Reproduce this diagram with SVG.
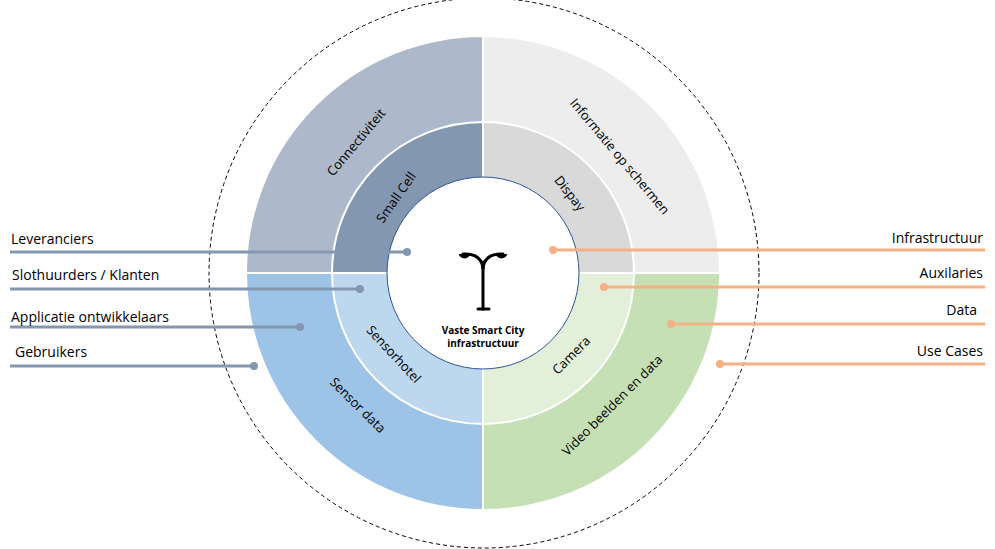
<svg xmlns="http://www.w3.org/2000/svg" width="995" height="549" viewBox="0 0 995 549">
<style>
text{font-family:"Open Sans","Liberation Sans",sans-serif;fill:#000}
.lbl{font-size:14px}
.seg{font-size:13px}
.gl{stroke:#8497b0;stroke-width:3;fill:none}
.ol{stroke:#f4b183;stroke-width:3;fill:none}
.gd{fill:#8497b0}.od{fill:#f4b183}
</style>
<rect width="995" height="549" fill="#fff"/>
<circle cx="484" cy="273" r="275" fill="none" stroke="#000" stroke-width="1" stroke-dasharray="4,3"/>
<g id="quadrants" stroke="#fff" stroke-width="2">
<path d="M483,273 L246,273 A237,237 0 0 1 483,36 Z" fill="#adb9ca"/>
<path d="M483,273 L483,36 A237,237 0 0 1 720,273 Z" fill="#ededed"/>
<path d="M483,273 L483,510 A237,237 0 0 1 246,273 Z" fill="#9dc3e6"/>
<path d="M483,273 L720,273 A237,237 0 0 1 483,510 Z" fill="#c5e0b4"/>
<path d="M483,273 L332,273 A151,151 0 0 1 483,122 Z" fill="#8497b0"/>
<path d="M483,273 L483,122 A151,151 0 0 1 634,273 Z" fill="#d9d9d9"/>
<path d="M483,273 L483,424 A151,151 0 0 1 332,273 Z" fill="#bdd7ee"/>
<path d="M483,273 L634,273 A151,151 0 0 1 483,424 Z" fill="#e2f0d9"/>
</g>
<g id="seglabels" class="seg">
<text class="seg" transform="translate(357,143) rotate(-50)" text-anchor="middle" dominant-baseline="middle">Connectiviteit</text>
<text class="seg" transform="translate(397,198) rotate(-55)" text-anchor="middle" dominant-baseline="middle">Small Cell</text>
<text class="seg" transform="translate(619,157) rotate(50)" text-anchor="middle" dominant-baseline="middle">Informatie op schermen</text>
<text class="seg" transform="translate(569,194) rotate(52)" text-anchor="middle" dominant-baseline="middle">Dispay</text>
<text class="seg" transform="translate(393,355) rotate(47)" text-anchor="middle" dominant-baseline="middle">Sensorhotel</text>
<text class="seg" transform="translate(357,406) rotate(45)" text-anchor="middle" dominant-baseline="middle">Sensor data</text>
<text class="seg" transform="translate(572,356) rotate(-45)" text-anchor="middle" dominant-baseline="middle">Camera</text>
<text class="seg" transform="translate(613,406) rotate(-45)" text-anchor="middle" dominant-baseline="middle">Video beelden en data</text>
</g>
<g id="center">
<circle cx="483" cy="273" r="96" fill="#fff" stroke="#2f5597" stroke-width="1"/>
<g stroke="#000" stroke-width="3" fill="none" stroke-linecap="round">
<line x1="483" y1="262" x2="483" y2="309"/>
<line x1="478" y1="309" x2="489" y2="309"/>
<path d="M483,268 Q481,253 463,254"/>
<path d="M483,268 Q485,253 503,254"/>
</g>
<path d="M459,254 h11 a5,4 0 0 1 -11,0 z" fill="#000"/>
<path d="M496,254 h11 a5,4 0 0 1 -11,0 z" fill="#000"/>
<text x="483" y="334" text-anchor="middle" font-size="10" font-weight="bold">Vaste Smart City</text>
<text x="483" y="347" text-anchor="middle" font-size="10" font-weight="bold">infrastructuur</text>
</g>
<g id="connectors">
<line class="gl" x1="10" y1="252" x2="407" y2="252"/><circle class="gd" cx="407" cy="252" r="4"/>
<line class="gl" x1="10" y1="289" x2="360" y2="289"/><circle class="gd" cx="360" cy="289" r="4"/>
<line class="gl" x1="10" y1="327" x2="300" y2="327"/><circle class="gd" cx="300" cy="327" r="4"/>
<line class="gl" x1="10" y1="366" x2="254" y2="366"/><circle class="gd" cx="254" cy="366" r="4"/>
<line class="ol" x1="553" y1="250" x2="985" y2="250"/><circle class="od" cx="553" cy="250" r="4"/>
<line class="ol" x1="604" y1="287" x2="985" y2="287"/><circle class="od" cx="604" cy="287" r="4"/>
<line class="ol" x1="671" y1="324" x2="985" y2="324"/><circle class="od" cx="671" cy="324" r="4"/>
<line class="ol" x1="720" y1="364" x2="985" y2="364"/><circle class="od" cx="720" cy="364" r="4"/>
</g>
<g id="labels" class="lbl">
<text class="lbl" x="11" y="244">Leveranciers</text>
<text class="lbl" x="12" y="280">Slothuurders / Klanten</text>
<text class="lbl" x="11" y="322">Applicatie ontwikkelaars</text>
<text class="lbl" x="15" y="357">Gebruikers</text>
<text class="lbl" x="983" y="243" text-anchor="end">Infrastructuur</text>
<text class="lbl" x="983" y="278" text-anchor="end">Auxilaries</text>
<text class="lbl" x="977" y="315" text-anchor="end">Data</text>
<text class="lbl" x="983" y="356" text-anchor="end">Use Cases</text>
</g>
</svg>
